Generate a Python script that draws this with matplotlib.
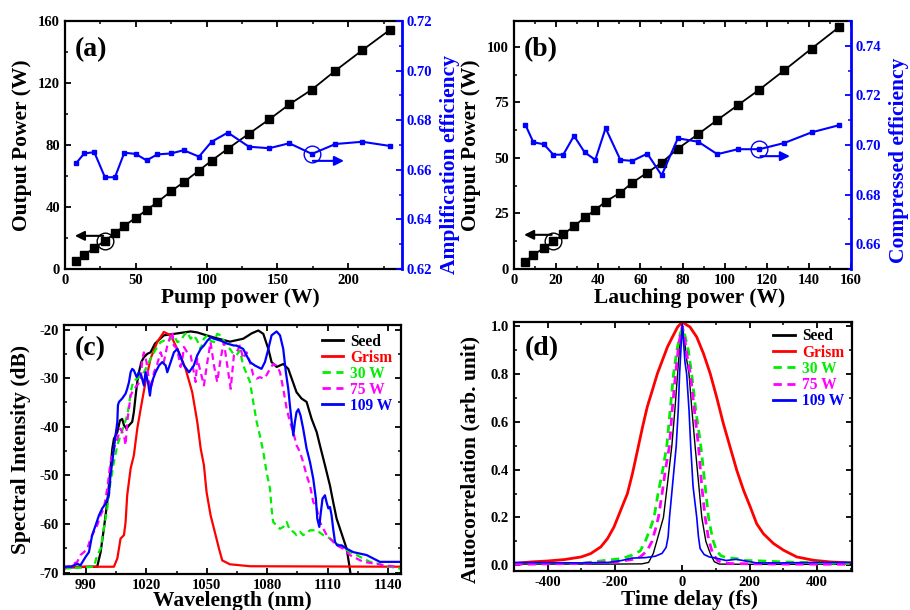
import matplotlib
matplotlib.use("Agg")
import matplotlib.pyplot as plt
from matplotlib.ticker import MultipleLocator, FormatStrFormatter

# ---------------- data: panel (a) ----------------
pump_a = [7.8, 13.6, 20.7, 28.2, 35.3, 41.9, 49.9, 57.6, 65.2, 75.0, 83.8, 94.6, 103.5,
          115.0, 129.9, 144.2, 158.4, 174.4, 191.0, 209.9, 229.6]
out_a = [4.9, 9.2, 13.5, 18.2, 23.0, 27.9, 33.0, 38.0, 43.1, 50.2, 56.0, 63.5, 69.9,
         77.6, 87.3, 96.5, 106.2, 115.8, 128.0, 141.1, 154.4]
eff_a = [0.6626, 0.6666, 0.6671, 0.6570, 0.6570, 0.6669, 0.6664, 0.6638, 0.6662, 0.6666,
         0.6679, 0.6653, 0.6713, 0.6750, 0.6693, 0.6687, 0.6707, 0.6664, 0.6704, 0.6713, 0.6696]

# ---------------- data: panel (b) ----------------
launch_b = [5.4, 9.2, 14.2, 18.7, 23.4, 28.5, 33.5, 38.6, 43.5, 50.5, 56.2, 63.3, 70.1,
            77.8, 87.5, 96.5, 106.3, 116.5, 128.3, 141.3, 154.4]
out_b = [3.3, 6.4, 9.4, 12.4, 15.7, 19.2, 23.2, 26.6, 30.4, 34.4, 38.9, 43.4, 47.9,
         54.2, 60.8, 67.1, 73.8, 80.8, 89.5, 99.3, 109.0]
eff_b = [0.7082, 0.7011, 0.7003, 0.6961, 0.6961, 0.7037, 0.6971, 0.6940, 0.7068, 0.6940,
         0.6936, 0.6965, 0.6878, 0.7027, 0.7013, 0.6963, 0.6983, 0.6983, 0.7008, 0.7051, 0.7080]

# ---------------- data: panel (c) spectra ----------------
wl_seed = [979.1, 992.0, 995.6, 997.3, 998.9, 1000.6, 1001.9, 1003.1, 1003.9, 1005.6, 1006.9,
           1008.0, 1008.9, 1010.2, 1011.4, 1013.0, 1013.8, 1014.7, 1015.5, 1016.3, 1017.5,
           1018.8, 1020.5, 1022.1, 1024.3, 1028.7, 1033.7, 1042.0, 1045.3, 1049.9, 1054.9,
           1061.5, 1068.1, 1072.3, 1075.6, 1078.1, 1080.6, 1082.2, 1084.7, 1088.0, 1090.5,
           1092.2, 1094.6, 1097.1, 1099.6, 1102.1, 1104.6, 1106.2, 1108.7, 1111.2, 1112.8,
           1114.5, 1116.2, 1117.8, 1119.5, 1120.8, 1121.5]
db_seed = [-69.0, -68.8, -68.8, -65.8, -61.0, -55.5, -50.0, -44.5, -42.5, -41.1, -38.7,
           -38.4, -39.7, -40.4, -39.7, -39.0, -37.0, -33.6, -30.8, -28.8, -26.7,
           -25.7, -25.0, -24.7, -22.9, -21.2, -20.9, -20.4, -20.6, -21.2, -21.8,
           -22.5, -21.9, -20.8, -20.2, -20.9, -24.0, -26.7, -27.7, -27.1, -28.1,
           -30.1, -32.9, -34.2, -34.9, -38.4, -41.1, -43.8, -47.9, -52.1, -55.5,
           -58.9, -61.0, -63.0, -65.1, -68.5, -70.5]

wl_grism = [979.1, 1003.9, 1005.6, 1007.2, 1008.9, 1009.7, 1010.5, 1012.2, 1013.8, 1015.5,
            1017.2, 1019.6, 1022.1, 1025.4, 1028.7, 1032.1, 1036.2, 1039.5, 1042.8, 1045.3,
            1047.0, 1048.6, 1049.9, 1051.9, 1054.4, 1056.1, 1057.7, 1061.5, 1071.5, 1146.5]
db_grism = [-68.8, -68.8, -67.1, -63.0, -62.3, -59.6, -54.1, -48.6, -45.9, -40.4,
            -36.3, -30.8, -26.0, -22.6, -20.5, -21.2, -24.7, -28.1, -32.9, -39.0,
            -44.5, -47.9, -53.4, -58.2, -62.3, -65.1, -67.5, -68.3, -68.7, -68.8]

wl_30 = [979.1, 994.0, 995.6, 997.3, 998.9, 1000.6, 1002.2, 1003.9, 1005.6, 1007.2,
         1008.9, 1010.5, 1011.4, 1012.2, 1013.0, 1013.8, 1015.5, 1017.2, 1018.8, 1020.5,
         1022.1, 1023.8, 1025.4, 1027.1, 1028.7, 1030.4, 1032.1, 1033.7, 1035.4, 1037.0,
         1038.7, 1040.3, 1042.0, 1043.6, 1045.3, 1047.0, 1048.6, 1050.3, 1051.9, 1053.6,
         1055.2, 1056.9, 1058.5, 1060.2, 1061.5, 1063.2, 1064.8, 1066.5, 1068.1, 1071.5,
         1073.1, 1074.8, 1076.4, 1078.1, 1079.7, 1081.4, 1082.2, 1083.0, 1084.7, 1086.4,
         1088.0, 1089.7, 1091.3, 1093.0, 1094.6, 1096.3, 1097.9, 1099.6, 1101.3, 1104.6,
         1107.9, 1111.2, 1114.5, 1117.8, 1121.1, 1124.4, 1127.7, 1131.1, 1134.4, 1137.7,
         1141.0, 1146.0]
db_30 = [-69.2, -68.8, -66.4, -65.1, -61.0, -56.8, -51.4, -47.3, -43.8, -41.8,
         -39.7, -37.7, -35.6, -32.9, -31.5, -30.5, -30.1, -29.5, -28.8, -27.4,
         -26.0, -24.7, -23.6, -22.6, -22.3, -22.6, -21.9, -21.2, -22.6, -22.3,
         -21.2, -20.5, -21.9, -21.2, -22.3, -24.0, -21.9, -21.2, -22.3, -22.6,
         -20.9, -21.2, -22.3, -23.6, -24.0, -25.0, -25.3, -24.3, -27.4, -30.8,
         -34.9, -39.0, -41.8, -45.2, -49.3, -52.7, -56.8, -59.6, -60.3, -61.0,
         -60.6, -59.6, -61.3, -61.6, -62.3, -61.6, -62.3, -61.9, -61.3, -61.3,
         -62.3, -63.0, -64.0, -65.1, -65.8, -66.4, -67.1, -67.8, -68.1, -68.5,
         -68.8, -69.2]

wl_75 = [979.1, 985.7, 987.3, 989.0, 990.7, 992.3, 994.0, 995.6, 997.3, 998.9,
         1000.6, 1002.2, 1003.9, 1005.6, 1007.2, 1008.9, 1009.7, 1010.5, 1012.2, 1013.8,
         1015.5, 1017.2, 1018.0, 1018.8, 1020.1, 1021.3, 1022.4, 1023.8, 1025.4, 1027.1,
         1028.7, 1030.4, 1032.1, 1032.9, 1033.7, 1035.4, 1036.2, 1037.0, 1037.8, 1038.7,
         1040.3, 1042.0, 1043.6, 1044.5, 1045.3, 1047.0, 1048.6, 1050.3, 1051.9, 1053.6,
         1055.2, 1056.9, 1058.5, 1060.2, 1061.9, 1063.5, 1064.8, 1066.5, 1068.1, 1069.8,
         1071.5, 1073.1, 1074.8, 1076.4, 1078.1, 1079.7, 1081.4, 1083.0, 1084.7, 1086.4,
         1088.0, 1089.7, 1091.3, 1093.0, 1094.6, 1096.3, 1097.9, 1099.6, 1101.3, 1102.9,
         1104.6, 1106.2, 1107.9, 1109.6, 1111.2, 1114.5, 1117.8, 1121.1, 1124.4, 1127.7,
         1132.7, 1137.7, 1144.3]
db_75 = [-69.2, -67.8, -66.4, -65.8, -65.1, -63.0, -61.6, -60.3, -58.2, -56.8,
         -52.7, -47.3, -44.5, -42.5, -40.4, -41.8, -43.8, -39.0, -33.6, -32.2,
         -31.5, -30.5, -26.0, -24.7, -26.7, -30.5, -32.2, -28.8, -27.1, -24.7,
         -26.7, -23.3, -21.2, -20.5, -23.3, -24.0, -26.0, -27.7, -26.4, -23.6,
         -24.7, -25.3, -28.8, -30.8, -26.0, -28.8, -31.5, -26.7, -22.6, -27.4,
         -30.8, -26.0, -22.6, -27.4, -32.2, -25.3, -24.7, -23.3, -26.0, -24.7,
         -26.7, -29.4, -30.1, -29.8, -30.1, -29.4, -28.1, -27.1, -27.4, -28.8,
         -32.2, -36.3, -39.0, -41.1, -43.8, -45.2, -47.3, -50.0, -52.1, -55.5,
         -56.8, -59.6, -61.0, -62.3, -63.0, -64.4, -65.1, -66.4, -67.1, -67.8,
         -68.1, -68.5, -68.8]

wl_109 = [979.1, 982.4, 985.7, 987.3, 989.8, 991.5, 993.1, 994.8, 996.5, 998.1,
          999.8, 1001.4, 1002.2, 1003.1, 1003.9, 1004.7, 1005.6, 1005.9, 1006.4, 1008.0,
          1009.7, 1010.5, 1011.4, 1012.2, 1013.0, 1013.8, 1015.2, 1016.3, 1017.5, 1018.8,
          1019.6, 1020.8, 1021.8, 1022.4, 1023.4, 1024.6, 1026.3, 1027.9, 1029.6, 1030.4,
          1032.1, 1033.7, 1035.4, 1036.7, 1038.7, 1041.2, 1043.6, 1045.3, 1047.0, 1048.6,
          1050.3, 1051.9, 1053.6, 1056.9, 1060.2, 1063.5, 1064.8, 1068.1, 1071.5, 1073.9,
          1077.2, 1078.9, 1080.6, 1082.2, 1084.7, 1086.4, 1088.0, 1089.3, 1090.5, 1091.3,
          1092.2, 1093.0, 1093.8, 1094.6, 1095.5, 1096.6, 1097.9, 1099.6, 1101.3, 1102.9,
          1104.2, 1104.9, 1105.9, 1106.5, 1107.5, 1108.7, 1109.5, 1110.4, 1111.2, 1112.0,
          1112.8, 1113.7, 1114.8, 1117.0, 1119.5, 1122.8, 1126.1, 1129.4, 1132.7, 1136.0,
          1139.3, 1145.9]
db_109 = [-68.8, -68.8, -68.2, -68.5, -66.8, -65.8, -62.3, -60.3, -58.2, -56.8,
          -55.8, -54.1, -50.0, -47.3, -44.5, -41.8, -39.0, -35.6, -34.9, -34.2,
          -33.2, -32.2, -30.8, -28.8, -28.1, -28.4, -29.8, -28.8, -29.5, -31.5,
          -28.8, -30.8, -33.6, -31.5, -30.1, -28.8, -27.4, -26.7, -27.4, -28.8,
          -26.7, -24.7, -24.0, -25.3, -27.4, -28.8, -27.4, -25.3, -24.0, -23.3,
          -22.3, -21.6, -21.9, -22.3, -22.9, -23.3, -23.3, -24.0, -26.7, -27.4,
          -28.1, -26.7, -24.0, -21.2, -20.4, -21.2, -24.0, -28.8, -32.2, -35.6,
          -39.0, -41.8, -39.0, -37.0, -36.4, -37.7, -40.4, -44.5, -47.3, -50.7,
          -54.8, -58.9, -60.6, -58.2, -54.8, -54.1, -55.5, -56.8, -56.5, -58.2,
          -61.0, -63.7, -64.4, -64.4, -65.1, -65.8, -66.1, -66.4, -67.1, -67.8,
          -67.8, -67.8]

# ---------------- data: panel (d) autocorrelation ----------------
delay_seed = [-500, -200, -120, -100, -86, -70, -56, -45, -31, -22, -14, -7, 0, 7, 12,
              20, 28, 38, 48, 58, 70, 83, 95, 110, 200, 500]
ac_seed = [0.005, 0.005, 0.006, 0.012, 0.05, 0.13, 0.2, 0.33, 0.5, 0.65, 0.8, 0.93, 1.005,
           0.94, 0.87, 0.8, 0.66, 0.5, 0.35, 0.2, 0.1, 0.05, 0.015, 0.005, 0.004, 0.004]

delay_grism = [-500, -450, -400, -350, -300, -272, -242, -222, -203, -183, -163, -148, -133,
               -118, -104, -89, -74, -59, -44, -29, -14, 0, 23, 43, 63, 83, 102, 122, 142,
               162, 182, 202, 221, 241, 271, 301, 340, 390, 440, 500]
ac_grism = [0.007, 0.014, 0.018, 0.024, 0.035, 0.049, 0.077, 0.112, 0.16, 0.23, 0.30, 0.384,
            0.481, 0.579, 0.663, 0.732, 0.802, 0.858, 0.914, 0.956, 0.997, 1.018, 0.997,
            0.955, 0.886, 0.802, 0.704, 0.593, 0.495, 0.397, 0.314, 0.244, 0.174, 0.132,
            0.091, 0.063, 0.035, 0.021, 0.014, 0.010]

delay_30 = [-500, -300, -220, -180, -150, -125, -110, -96, -84, -72, -58, -46, -36, -26, -16,
            -6, 0, 8, 18, 28, 40, 55, 65, 78, 90, 102, 115, 130, 160, 190, 240, 300, 400, 500]
ac_30 = [0.006, 0.008, 0.022, 0.028, 0.042, 0.06, 0.1, 0.15, 0.2, 0.3, 0.4, 0.5, 0.65, 0.8,
         0.9, 0.97, 0.99, 0.96, 0.9, 0.8, 0.65, 0.5, 0.37, 0.2, 0.11, 0.06, 0.04, 0.032,
         0.028, 0.02, 0.018, 0.014, 0.01, 0.007]

delay_75 = [-500, -300, -200, -150, -125, -105, -90, -80, -71, -60, -50, -38, -30, -20, -10,
            0, 8, 15, 24, 36, 48, 58, 68, 78, 90, 105, 120, 150, 300, 500]
ac_75 = [0.004, 0.008, 0.014, 0.024, 0.035, 0.06, 0.1, 0.15, 0.2, 0.3, 0.4, 0.5, 0.65, 0.8,
         0.93, 1.0, 0.94, 0.87, 0.8, 0.65, 0.5, 0.33, 0.2, 0.11, 0.05, 0.02, 0.01, 0.007,
         0.005, 0.004]

delay_109 = [-500, -300, -220, -180, -150, -110, -80, -60, -48, -42, -38, -30, -18, -12, -8,
             -3, 0, 4, 8, 13, 20, 25, 32, 43, 48, 53, 65, 80, 100, 130, 160, 180, 220, 300,
             400, 500]
ac_109 = [0.012, 0.01, 0.012, 0.02, 0.03, 0.032, 0.038, 0.05, 0.075, 0.12, 0.2, 0.32, 0.5,
          0.65, 0.8, 0.93, 1.008, 0.93, 0.85, 0.8, 0.65, 0.5, 0.33, 0.2, 0.12, 0.07, 0.045,
          0.035, 0.03, 0.02, 0.025, 0.02, 0.01, 0.01, 0.012, 0.012]

legend_labels = ["Seed", "Grism", "30 W", "75 W", "109 W"]

# ---------------- style ----------------
plt.rcParams['font.family'] = ['Liberation Serif', 'DejaVu Serif']
plt.rcParams['font.weight'] = 'bold'
plt.rcParams['axes.labelweight'] = 'bold'
plt.rcParams['axes.unicode_minus'] = False
plt.rcParams['axes.linewidth'] = 1.6
for ax_ in ('xtick', 'ytick'):
    plt.rcParams[ax_ + '.direction'] = 'in'
    plt.rcParams[ax_ + '.major.size'] = 4
    plt.rcParams[ax_ + '.minor.size'] = 2.2
    plt.rcParams[ax_ + '.major.width'] = 1.3
    plt.rcParams[ax_ + '.minor.width'] = 1.1
    plt.rcParams[ax_ + '.labelsize'] = 10.5

BLUE = '#0000ff'
RED = '#ff0000'
GREEN = '#00ee00'
MAG = '#ff00ff'
LABEL_FS = 15.5
PANEL_FS = 20
LEG_FS = 11.2
DASH = (0, (3.0, 2.0))

fig = plt.figure(figsize=(9.1, 6.1), dpi=100)
ax_a = fig.add_axes([0.0714, 0.559, 0.3704, 0.4066])
ax_b = fig.add_axes([0.5648, 0.559, 0.3704, 0.4066])
ax_c = fig.add_axes([0.0703, 0.059, 0.3704, 0.408])
ax_d = fig.add_axes([0.5648, 0.0639, 0.3714, 0.4082])


def power_panel(ax, x, y, eff, xlim, ylim, ylim2, xmaj, ymaj, xlabel, rlabel, tag,
                circ_l, circ_r, arrow_l, arrow_r, rlabel_y):
    ax.plot(x, y, '-s', color='k', ms=5.5, lw=1.3, zorder=3)
    ax.set_xlim(*xlim)
    ax.set_ylim(*ylim)
    ax.xaxis.set_major_locator(MultipleLocator(xmaj))
    ax.xaxis.set_minor_locator(MultipleLocator(xmaj / 2))
    ax.yaxis.set_major_locator(MultipleLocator(ymaj))
    ax.yaxis.set_minor_locator(MultipleLocator(ymaj / 2))
    ax.tick_params(which='both', top=True, right=False)
    ax.spines['right'].set_visible(False)
    ax.set_xlabel(xlabel, fontsize=LABEL_FS)
    ax.set_ylabel('Output Power (W)', fontsize=LABEL_FS)
    ax.xaxis.set_label_coords(0.52, -0.075)
    ax.yaxis.set_label_coords(-0.098, 0.5)
    ax.text(0.03, 0.885, tag, transform=ax.transAxes, fontsize=PANEL_FS, va='center',
            ha='left')
    tw = ax.twinx()
    tw.plot(x, eff, '-s', color=BLUE, ms=3.5, lw=1.5, zorder=3)
    tw.set_ylim(*ylim2)
    tw.yaxis.set_major_locator(MultipleLocator(0.02))
    tw.yaxis.set_minor_locator(MultipleLocator(0.01))
    tw.yaxis.set_major_formatter(FormatStrFormatter('%.2f'))
    tw.tick_params(axis='y', which='both', colors=BLUE, direction='in')
    tw.spines['right'].set_color(BLUE)
    tw.spines['right'].set_linewidth(2.0)
    for s in ('left', 'top', 'bottom'):
        tw.spines[s].set_visible(False)
    tw.set_ylabel(rlabel, fontsize=LABEL_FS, color=BLUE)
    tw.yaxis.set_label_coords(1.113, rlabel_y)
    # circle + arrow annotations
    ax.plot([x[circ_l]], [y[circ_l]], 'o', ms=12, mfc='none', mec='k', mew=1.0, zorder=4)
    ax.annotate('', xy=arrow_l[1], xytext=arrow_l[0],
                arrowprops=dict(arrowstyle='-|>', color='k', lw=1.5, mutation_scale=14,
                                shrinkA=0, shrinkB=0))
    tw.plot([x[circ_r]], [eff[circ_r]], 'o', ms=12, mfc='none', mec=BLUE, mew=1.0, zorder=4)
    tw.annotate('', xy=arrow_r[1], xytext=arrow_r[0],
                arrowprops=dict(arrowstyle='-|>', color=BLUE, lw=1.5, mutation_scale=14,
                                shrinkA=0, shrinkB=0))
    return tw


power_panel(ax_a, pump_a, out_a, eff_a, (0, 238), (0, 160), (0.62, 0.72), 50, 40,
            'Pump power (W)', 'Amplification efficiency', '(a)', 3, 17,
            ((27, 21.4), (7, 21.4)), ((175, 0.6636), (197, 0.6636)), 0.42)
power_panel(ax_b, launch_b, out_b, eff_b, (0, 160), (0, 111.7), (0.65, 0.75), 20, 25,
            'Lauching power (W)', 'Compressed efficiency', '(b)', 3, 17,
            ((17.9, 15.4), (4.8, 15.4)), ((117, 0.6955), (131, 0.6955)), 0.44)

# ---------------- panel (c) ----------------
ax_c.plot(wl_seed, db_seed, color='k', lw=1.6, label=legend_labels[0])
ax_c.plot(wl_grism, db_grism, color=RED, lw=1.6, label=legend_labels[1])
ax_c.plot(wl_30, db_30, color=GREEN, lw=1.6, ls=DASH, label=legend_labels[2])
ax_c.plot(wl_75, db_75, color=MAG, lw=1.6, ls=DASH, label=legend_labels[3])
ax_c.plot(wl_109, db_109, color=BLUE, lw=1.6, label=legend_labels[4])
ax_c.set_xlim(979.1, 1146.5)
ax_c.set_ylim(-70.3, -19.1)
ax_c.xaxis.set_major_locator(MultipleLocator(30))
ax_c.xaxis.set_minor_locator(MultipleLocator(15))
ax_c.yaxis.set_major_locator(MultipleLocator(10))
ax_c.yaxis.set_minor_locator(MultipleLocator(5))
ax_c.tick_params(which='both', top=True, right=True)
ax_c.set_xlabel('Wavelength (nm)', fontsize=LABEL_FS)
ax_c.set_ylabel('Spectral Intensity (dB)', fontsize=LABEL_FS)
ax_c.xaxis.set_label_coords(0.50, -0.068)
ax_c.yaxis.set_label_coords(-0.098, 0.50)
ax_c.text(0.033, 0.905, '(c)', transform=ax_c.transAxes, fontsize=PANEL_FS, va='center',
          ha='left')
leg_c = ax_c.legend(loc='upper right', bbox_to_anchor=(0.975, 0.966), frameon=False,
                    fontsize=LEG_FS, handlelength=1.4, handletextpad=0.45, labelspacing=0.0,
                    borderpad=0.0, borderaxespad=0.0, labelcolor='linecolor')
for h in leg_c.get_lines():
    h.set_linewidth(2.0)

# ---------------- panel (d) ----------------
ax_d.plot(delay_seed, ac_seed, color='k', lw=1.0, label=legend_labels[0])
ax_d.plot(delay_grism, ac_grism, color=RED, lw=2.0, label=legend_labels[1])
ax_d.plot(delay_30, ac_30, color=GREEN, lw=2.0, ls=DASH, label=legend_labels[2])
ax_d.plot(delay_75, ac_75, color=MAG, lw=2.0, ls=DASH, label=legend_labels[3])
ax_d.plot(delay_109, ac_109, color=BLUE, lw=1.2, label=legend_labels[4])
ax_d.set_xlim(-500, 504)
ax_d.set_ylim(-0.024, 1.018)
ax_d.xaxis.set_major_locator(MultipleLocator(200))
ax_d.xaxis.set_minor_locator(MultipleLocator(100))
ax_d.yaxis.set_major_locator(MultipleLocator(0.2))
ax_d.yaxis.set_minor_locator(MultipleLocator(0.1))
ax_d.yaxis.set_major_formatter(FormatStrFormatter('%.1f'))
ax_d.tick_params(which='both', top=True, right=True)
ax_d.set_xlabel('Time delay (fs)', fontsize=LABEL_FS)
ax_d.set_ylabel('Autocorrelation (arb. unit)', fontsize=LABEL_FS)
ax_d.xaxis.set_label_coords(0.52, -0.075)
ax_d.yaxis.set_label_coords(-0.10, 0.45)
ax_d.text(0.033, 0.895, '(d)', transform=ax_d.transAxes, fontsize=PANEL_FS, va='center',
          ha='left')
leg_d = ax_d.legend(loc='upper right', bbox_to_anchor=(0.978, 0.975), frameon=False,
                    fontsize=LEG_FS, handlelength=1.4, handletextpad=0.45, labelspacing=0.02,
                    borderpad=0.0, borderaxespad=0.0, labelcolor='linecolor')
for h in leg_d.get_lines():
    h.set_linewidth(2.0)

fig.savefig('out.png', dpi=100)
